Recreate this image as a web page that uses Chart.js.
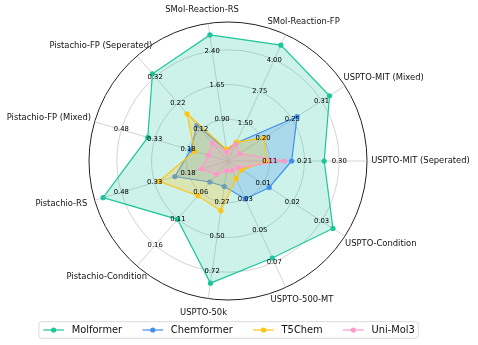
<!DOCTYPE html>
<html><head><meta charset="utf-8">
<script src="https://cdn.jsdelivr.net/npm/chart.js@4.4.1/dist/chart.umd.min.js"></script>
<style>html,body{margin:0;padding:0;background:#fff}canvas{display:block}</style>
</head><body>
<canvas id="c" width="478" height="345"></canvas>
<script>
// ---- data ----
const categories = ['SMol-Reaction-RS','SMol-Reaction-FP','USPTO-MIT (Mixed)','USPTO-MIT (Seperated)','USPTO-Condition','USPTO-500-MT','USPTO-50k','Pistachio-Condition','Pistachio-RS','Pistachio-FP (Mixed)','Pistachio-FP (Seperated)'];
const tickLabels = [
  ['0.90','1.65','2.40'],
  ['1.50','2.75','4.00'],
  ['0.20','0.25','0.31'],
  ['0.11','0.21','0.30'],
  ['0.01','0.02','0.03'],
  ['0.03','0.05','0.07'],
  ['0.27','0.50','0.72'],
  ['0.06','0.11','0.16'],
  ['0.18','0.33','0.48'],
  ['0.18','0.33','0.48'],
  ['0.12','0.22','0.32']
];
const seriesNames = ['Molformer','Chemformer','T5Chem','Uni-Mol3'];
const molformer  = [2.75, 4.58, 0.325, 0.259, 0.0339, 0.0674, 0.799, 0.111, 0.562, 0.361, 0.332];
const chemformer = [0.24, 0.71, 0.264, 0.170, 0.0121, 0.0300, 0.167, 0.040, 0.239, 0.168, 0.136];
const t5chem     = [0.258, 0.75, 0.202, 0.102, 0.0027, 0.0172, 0.325, 0.066, 0.310, 0.150, 0.180];
const unimol3    = [0.201, 0.65, 0.156, 0.150, 0.0015, 0.0120, 0.063, 0.0254, 0.120, 0.089, 0.069];

// ---- helpers ----
const ringLevels = [0.3, 0.55, 0.8];
function toFrac(v, i) {
  const lo = parseFloat(tickLabels[i][0]), hi = parseFloat(tickLabels[i][2]);
  return ringLevels[0] + (v - lo) / (hi - lo) * (ringLevels[2] - ringLevels[0]);
}
const colors = ['#1cc69a', '#4090ee', '#ffc412', '#ff99cc'];
const fills  = ['rgba(28,198,154,0.22)', 'rgba(64,144,238,0.25)', 'rgba(255,196,18,0.25)', 'rgba(255,153,204,0.25)'];
const allSeries = [molformer, chemformer, t5chem, unimol3];

const datasets = allSeries.map((s, k) => ({
  label: seriesNames[k],
  data: s.map((v, i) => toFrac(v, i)),
  borderColor: colors[k],
  backgroundColor: fills[k],
  pointBackgroundColor: colors[k],
  pointBorderColor: colors[k],
  pointBorderWidth: 0,
  pointRadius: 2.6,
  borderWidth: 1.2,
  fill: true,
  order: 4 - k
}));

const FONT = '"DejaVu Sans", Verdana, sans-serif';

const overlay = {
  id: 'overlay',
  afterDatasetsDraw(chart) {
    const ctx = chart.ctx, sc = chart.scales.r;
    ctx.save();
    // tick labels along each spoke
    ctx.font = '6.8px ' + FONT;
    ctx.fillStyle = '#000';
    ctx.textAlign = 'center'; ctx.textBaseline = 'middle';
    categories.forEach((c, i) => {
      ringLevels.forEach((lv, k) => {
        const p = sc.getPointPosition(i, sc.getDistanceFromCenterForValue(lv));
        ctx.fillText(tickLabels[i][k], p.x, p.y);
      });
    });
    // category labels
    ctx.font = '8.4px ' + FONT;
    ctx.fillStyle = '#111';
    const R = sc.drawingArea;
    categories.forEach((lab, i) => {
      const a = sc.getIndexAngle(i);
      const s = Math.sin(a), co = Math.cos(a);
      const r = R + 14;
      const px = sc.xCenter + r * s, py = sc.yCenter - r * co;
      const w = ctx.measureText(lab).width;
      ctx.fillText(lab, px + s * w / 2 * 0.8, py);
    });
    ctx.restore();
  },
  afterDraw(chart) {
    const ctx = chart.ctx, sc = chart.scales.r;
    ctx.save();
    ctx.font = '9.9px ' + FONT;
    const lineW = 20.7, gapT = 7.7, gapI = 20.3, padL = 4.4, padR = 3.5;
    const widths = seriesNames.map(n => ctx.measureText(n).width);
    let total = padL + padR;
    widths.forEach((w, k) => { total += lineW + gapT + w + (k < widths.length - 1 ? gapI : 0); });
    const x0 = sc.xCenter + 0.6 - total / 2;
    const y0 = 321.7, h = 16.6;
    // box
    ctx.beginPath();
    const rr = 2.5;
    ctx.moveTo(x0 + rr, y0);
    ctx.arcTo(x0 + total, y0, x0 + total, y0 + h, rr);
    ctx.arcTo(x0 + total, y0 + h, x0, y0 + h, rr);
    ctx.arcTo(x0, y0 + h, x0, y0, rr);
    ctx.arcTo(x0, y0, x0 + total, y0, rr);
    ctx.closePath();
    ctx.fillStyle = 'rgba(255,255,255,0.8)';
    ctx.fill();
    ctx.strokeStyle = '#d0d0d0';
    ctx.lineWidth = 0.8;
    ctx.stroke();
    let x = x0 + padL;
    const ym = y0 + h / 2;
    seriesNames.forEach((n, k) => {
      ctx.strokeStyle = colors[k]; ctx.lineWidth = 1.2;
      ctx.beginPath(); ctx.moveTo(x, ym); ctx.lineTo(x + lineW, ym); ctx.stroke();
      ctx.fillStyle = colors[k];
      ctx.beginPath(); ctx.arc(x + lineW / 2, ym, 2.6, 0, Math.PI * 2); ctx.fill();
      x += lineW + gapT;
      ctx.fillStyle = '#111';
      ctx.textAlign = 'left'; ctx.textBaseline = 'middle';
      ctx.fillText(n, x, ym + 0.5);
      x += widths[k] + gapI;
    });
    ctx.restore();
  }
};

new Chart(document.getElementById('c'), {
  type: 'radar',
  data: { labels: categories, datasets },
  options: {
    responsive: false,
    devicePixelRatio: 1,
    animation: false,
    layout: { padding: { left: 89, right: 111, top: 22, bottom: 45 } },
    plugins: { legend: { display: false }, tooltip: { enabled: false } },
    elements: { line: { tension: 0 } },
    scales: {
      r: {
        min: 0, max: 1,
        startAngle: 90 - 3 * 360 / categories.length,
        ticks: { display: false },
        afterBuildTicks: (scale) => { scale.ticks = [0, 0.3, 0.55, 0.8, 1].map(v => ({ value: v })); },
        grid: {
          circular: true,
          color: (c) => (c.tick && c.tick.value === 1) ? '#222' : '#c8c8c8',
          lineWidth: (c) => (c.tick && c.tick.value === 1) ? 1 : 0.8
        },
        angleLines: { color: '#c8c8c8', lineWidth: 0.8 },
        pointLabels: { display: false }
      }
    }
  },
  plugins: [overlay]
});
</script>
</body></html>
